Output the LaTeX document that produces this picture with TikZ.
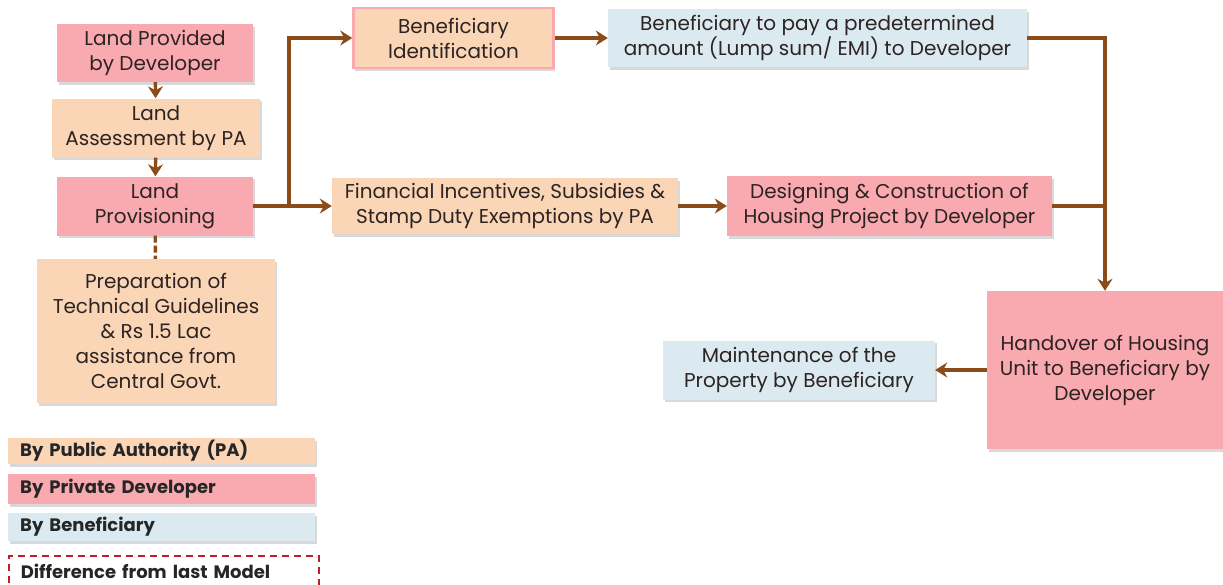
\documentclass[tikz,border=0pt]{standalone}
\usepackage{fontspec}
\setmainfont{Poppins}
\usetikzlibrary{arrows.meta,shadows}

\definecolor{pacol}{RGB}{250,214,182}
\definecolor{devcol}{RGB}{249,170,176}
\definecolor{bencol}{RGB}{219,234,241}
\definecolor{flowcol}{RGB}{140,76,26}
\definecolor{inkcol}{RGB}{45,35,35}
\definecolor{diffcol}{RGB}{190,30,40}

\tikzset{
    shade/.style={drop shadow={shadow xshift=1.5pt, shadow yshift=-2.5pt, opacity=0.3}},
    stage/.style={rectangle, align=center, inner sep=2pt, text=inkcol,
        font=\fontsize{20}{25}\selectfont, shade},
    pastage/.style={stage, fill=pacol},
    devstage/.style={stage, fill=devcol},
    benstage/.style={stage, fill=bencol},
    link/.style={draw=flowcol, line width=3.4pt},
    flow/.style={link, -{Stealth[length=12pt,width=15pt,inset=4pt]}},
    legend/.style={rectangle, anchor=west, text width=283pt, inner xsep=12pt,
        inner ysep=0pt, align=left, text=black!85,
        font=\fontsize{18}{22}\selectfont\bfseries}
}

\begin{document}
\begin{tikzpicture}[x=1pt,y=-1pt]
    \useasboundingbox (0,0) rectangle (1223,584);

    % Land chain
    \node[devstage, minimum width=196pt, minimum height=58pt] (provided) at (155,53) {Land Provided\\by Developer};
    \node[pastage, minimum width=208pt, minimum height=59pt] (assess) at (156,128) {Land\\Assessment by PA};
    \node[devstage, minimum width=196pt, minimum height=59pt] (provision) at (155,206) {Land\\Provisioning};
    \node[pastage, minimum width=238pt, minimum height=144pt] (guide) at (156,331) {Preparation of\\Technical Guidelines\\\& Rs 1.5 Lac\\assistance from\\Central Govt.};

    % Upper row
    \node[pastage, draw=devcol, line width=2.5pt, minimum width=200pt, minimum height=60pt] (identify) at (453.5,38) {Beneficiary\\Identification};
    \node[benstage, minimum width=419pt, minimum height=58pt] (pay) at (817.5,38) {Beneficiary to pay a predetermined\\amount (Lump sum/ EMI) to Developer};

    % Middle row
    \node[pastage, minimum width=346pt, minimum height=56pt] (incentive) at (505,206) {Financial Incentives, Subsidies \&\\Stamp Duty Exemptions by PA};
    \node[devstage, minimum width=325pt, minimum height=60pt] (construct) at (889.5,206) {Designing \& Construction of\\Housing Project by Developer};

    % Lower row
    \node[devstage, minimum width=236pt, minimum height=158pt] (handover) at (1105,370) {Handover of Housing\\Unit to Beneficiary by\\Developer};
    \node[benstage, minimum width=272pt, minimum height=59pt] (maintain) at (799,370) {Maintenance of the\\Property by Beneficiary};

    % Connectors
    \coordinate (split) at (289,206);
    \draw[flow] (provided) -- (assess);
    \draw[flow] (assess) -- (provision);
    \draw[link, dash pattern=on 7pt off 3pt] (provision) -- (guide);
    \draw[flow] (provision) -- (split) -- (incentive);
    \draw[flow] (split) |- (identify);
    \draw[flow] (identify) -- (pay);
    \draw[flow] (incentive) -- (construct);
    \draw[flow] (pay) -| (handover);
    \draw[link] (construct) -- (construct -| handover);
    \draw[flow] (handover) -- (maintain);

    % Legend
    \node[legend, shade, fill=pacol, minimum height=26pt] (legpa) at (8,451) {By Public Authority (PA)};
    \node[legend, shade, fill=devcol, minimum height=30pt] (legdev) at (8,489) {By Private Developer};
    \node[legend, shade, fill=bencol, minimum height=28pt] (legben) at (8,527) {By Beneficiary};
    \begin{scope}
        \clip (0,0) rectangle (1223,584);
        \node[legend, draw=diffcol, line width=1.5pt, dash pattern=on 7pt off 5pt,
            minimum height=32pt, text width=286pt, anchor=north west] (legdiff) at (8,555) {Difference from last Model};
    \end{scope}
\end{tikzpicture}
\end{document}
